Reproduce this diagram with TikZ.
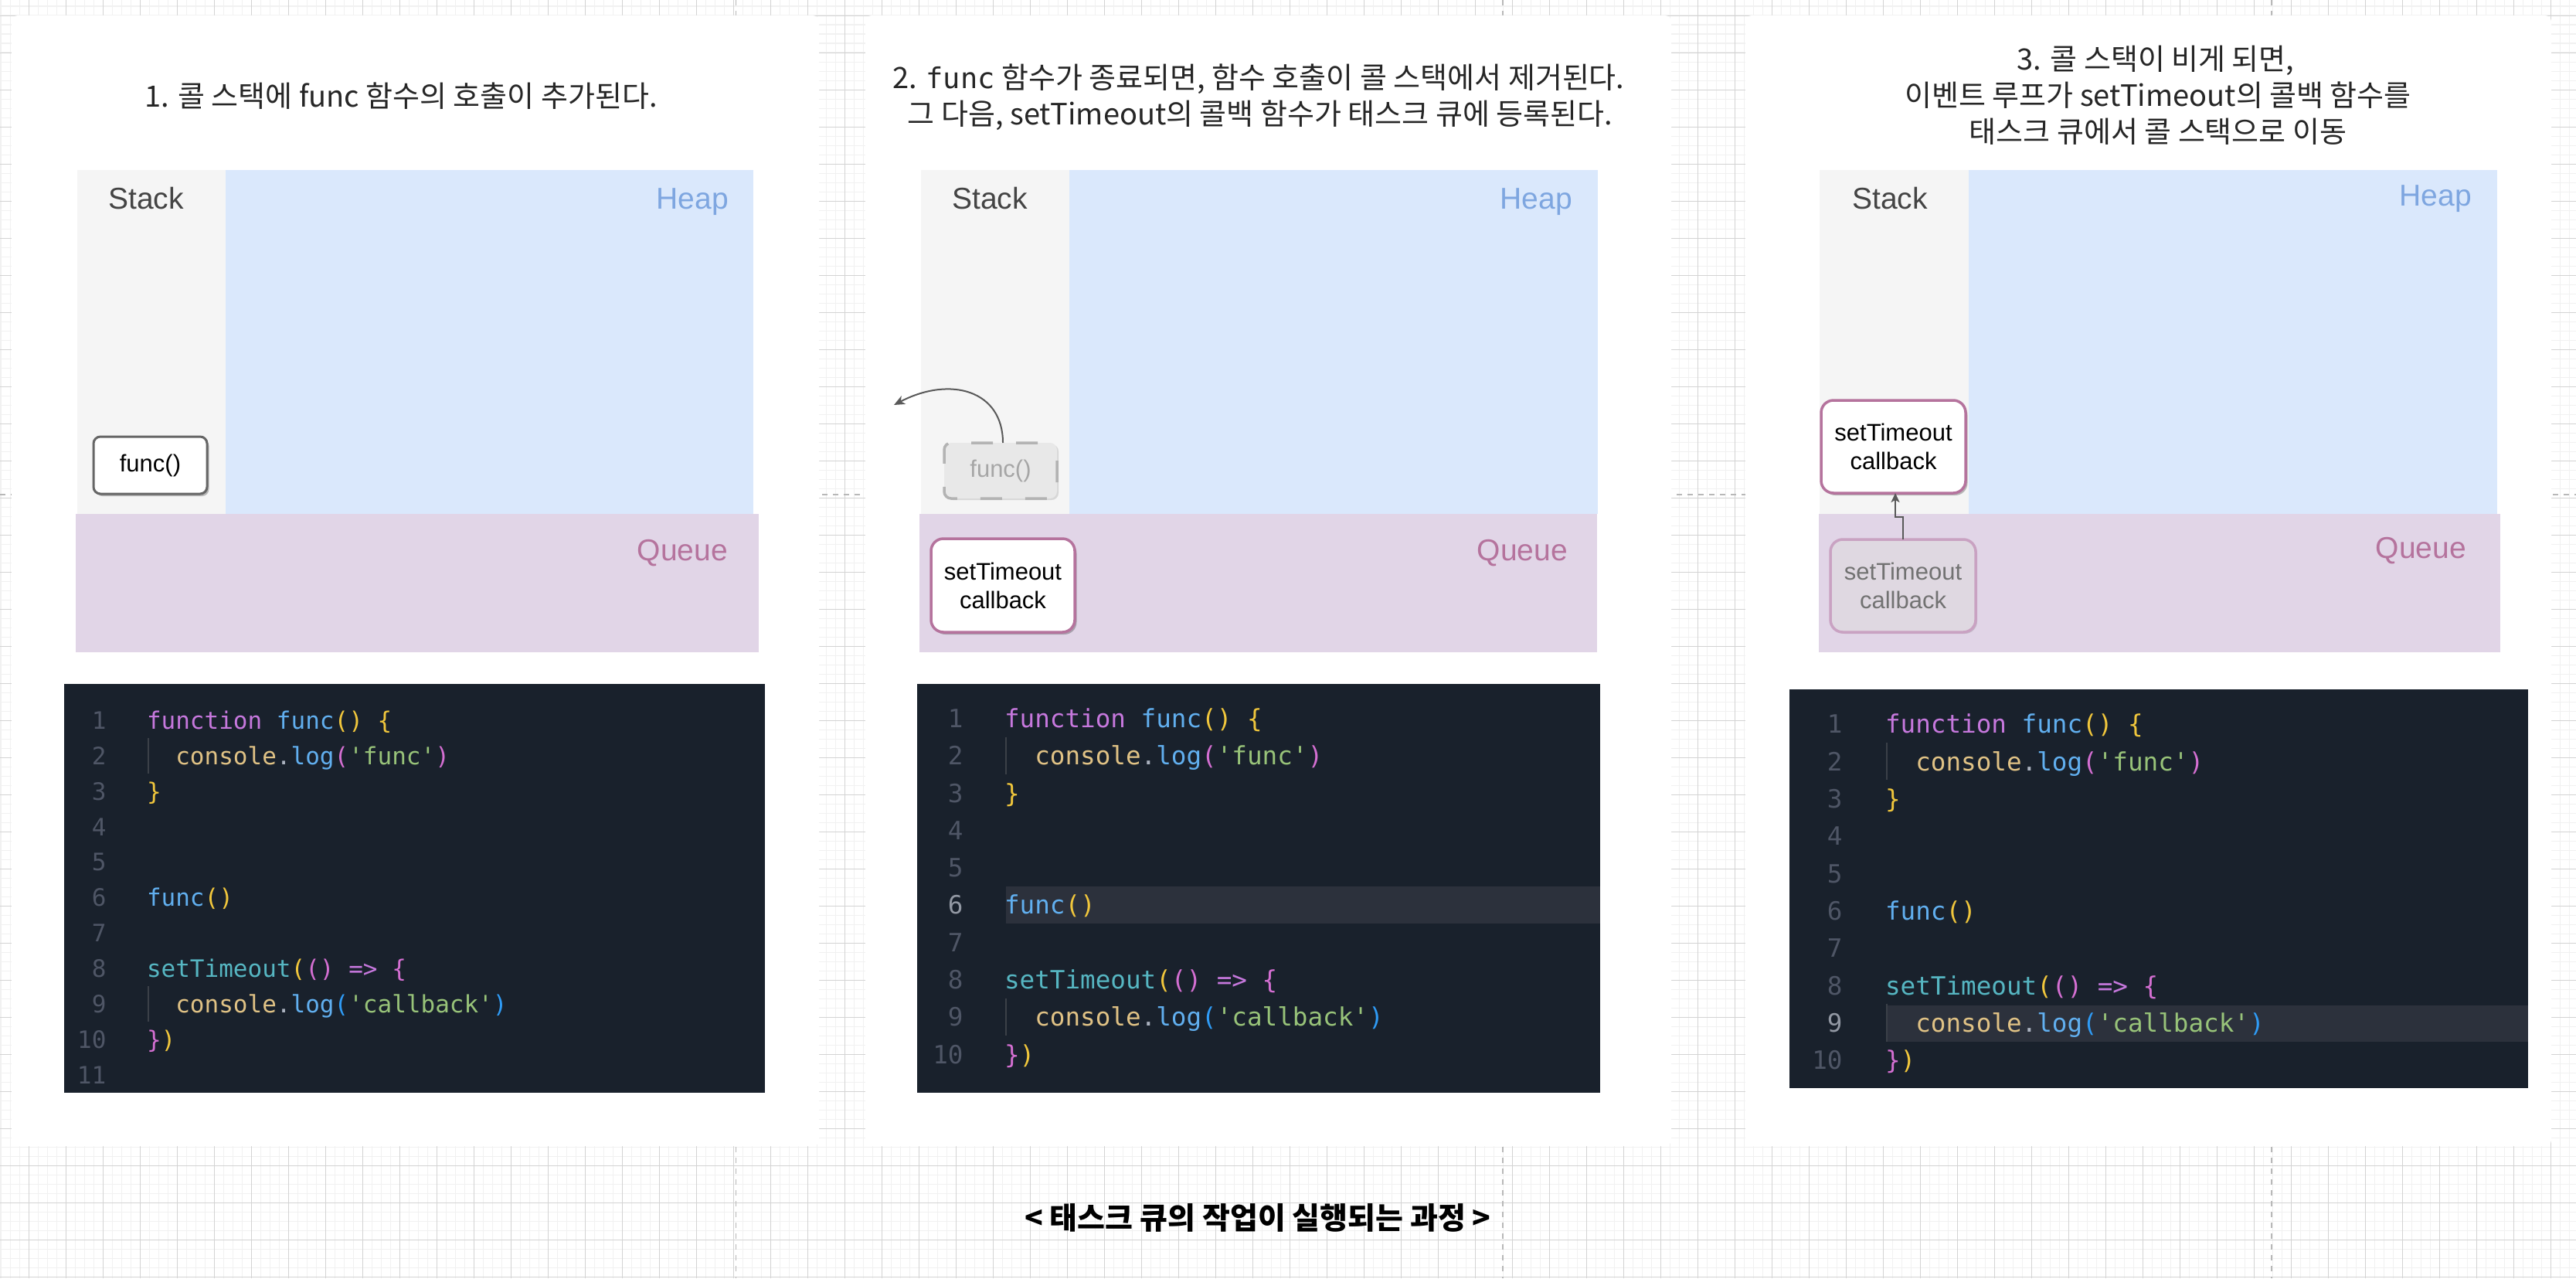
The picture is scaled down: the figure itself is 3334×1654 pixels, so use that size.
\documentclass[tikz,border=0pt]{standalone}
\usepackage{fontspec}
\setmainfont{Liberation Sans}
\setmonofont{DejaVu Sans Mono}
\newfontfamily\kr{Noto Sans CJK KR}
\usetikzlibrary{arrows.meta,shadows}

\definecolor{gridminor}{HTML}{F1F1F1}
\definecolor{gridmajor}{HTML}{D3D3D3}
\definecolor{pagebreak}{HTML}{B8B8B8}
\definecolor{stackfill}{HTML}{F5F5F5}
\definecolor{heapfill}{HTML}{DAE8FC}
\definecolor{queuefill}{HTML}{E1D5E7}
\definecolor{heaptext}{HTML}{7EA6E0}
\definecolor{queuetext}{HTML}{B5739D}
\definecolor{stacktext}{HTML}{444444}
\definecolor{titletext}{HTML}{262626}
\definecolor{funcborder}{HTML}{666666}
\definecolor{cbborder}{HTML}{B5739D}
\definecolor{ghostfill}{HTML}{E8E8E8}
\definecolor{ghostdash}{HTML}{B3B3B3}
\definecolor{ghosttext}{HTML}{A6A6A6}
\definecolor{ghostcbfill}{HTML}{DFD8E1}
\definecolor{ghostcbborder}{HTML}{C9A2C2}
\definecolor{ghostcbtext}{HTML}{727272}
\definecolor{arrowc}{HTML}{595959}
\definecolor{codebg}{HTML}{19212C}
\definecolor{codehl}{HTML}{2C313C}
\definecolor{lnum}{HTML}{4F5666}
\definecolor{lnumhl}{HTML}{9298A3}
\definecolor{guide}{HTML}{3B4048}
\definecolor{ckw}{HTML}{C678DD}
\definecolor{cfn}{HTML}{61AFEF}
\definecolor{cbone}{HTML}{F0C63C}
\definecolor{cbtwo}{HTML}{D46FD2}
\definecolor{cbthree}{HTML}{2F9BF5}
\definecolor{ccons}{HTML}{E0C285}
\definecolor{cdot}{HTML}{ABB2BF}
\definecolor{cstr}{HTML}{98C379}
\definecolor{ccyan}{HTML}{56B6C2}

\newcommand\cc[2]{\textcolor{#1}{#2}}
% #1 prefix, #2 font size, #3 line spacing, #4 number x (relative), #5 highlighted line number
\newcommand\codeblock[5]{%
  \begin{scope}[every node/.style={inner sep=0, outer sep=0, font=\ttfamily\fontsize{#2}{#2}\selectfont}]
    \draw[guide, line width=1.5pt] (2,{#3-0.364*#2-#3/2}) -- ++(0,#3);
    \draw[guide, line width=1.5pt] (2,{8*#3-0.364*#2-#3/2}) -- ++(0,#3);
    \foreach \i in {1,...,10} {
      \node[anchor=base east, text=lnum] (#1n\i) at (#4,{(\i-1)*#3}) {\ifnum\i=#5\relax\color{lnumhl}\fi\i};
    }
    \node[anchor=base west] (#1c1) at (0,0) {\cc{ckw}{function} \cc{cfn}{func}\cc{cbone}{()} \cc{cbone}{\{}};
    \node[anchor=base west] (#1c2) at ({1.204*#2},#3) {\cc{ccons}{console}\cc{cdot}{.}\cc{cfn}{log}\cc{cbtwo}{(}\cc{cstr}{'func'}\cc{cbtwo}{)}};
    \node[anchor=base west] (#1c3) at (0,{2*#3}) {\cc{cbone}{\}}};
    \node[anchor=base west] (#1c6) at (0,{5*#3}) {\cc{cfn}{func}\cc{cbone}{()}};
    \node[anchor=base west] (#1c8) at (0,{7*#3}) {\cc{ccyan}{setTimeout}\cc{cbone}{(}\cc{cbtwo}{()} \cc{ckw}{=>} \cc{cbtwo}{\{}};
    \node[anchor=base west] (#1c9) at ({1.204*#2},{8*#3}) {\cc{ccons}{console}\cc{cdot}{.}\cc{cfn}{log}\cc{cbthree}{(}\cc{cstr}{'callback'}\cc{cbthree}{)}};
    \node[anchor=base west] (#1c10) at (0,{9*#3}) {\cc{cbtwo}{\}}\cc{cbone}{)}};
  \end{scope}%
}

\tikzset{
  region/.style={inner sep=0, outer sep=0, draw=none},
  lbl/.style={inner sep=0, outer sep=0, font=\fontsize{39}{39}\selectfont},
  titlefont/.style={inner sep=0, outer sep=0, text=titletext, font=\kr\fontsize{38}{38}\selectfont},
  boxshadow/.style={drop shadow={shadow xshift=2.5pt, shadow yshift=-3pt, opacity=0.25, fill=black}},
  funcbox/.style={rounded corners=9pt, inner sep=0, outer sep=0, fill=white, draw=funcborder, line width=3pt,
    minimum width=147pt, minimum height=74pt, font=\fontsize{31}{37}\selectfont, boxshadow},
  ghostfunc/.style={rounded corners=9pt, inner sep=0, outer sep=0, fill=ghostfill, draw=ghostdash, line width=3.5pt,
    dash pattern=on 28pt off 30pt, dash phase=-16pt, minimum width=146pt, minimum height=72pt, text=ghosttext,
    font=\fontsize{31}{37}\selectfont, drop shadow={shadow xshift=2pt, shadow yshift=-2pt, opacity=0.12, fill=black}},
  cbbox/.style={rounded corners=16pt, inner sep=0, outer sep=0, fill=white, draw=cbborder, line width=3.5pt,
    minimum width=186pt, minimum height=121pt, align=center, font=\fontsize{31}{37}\selectfont, boxshadow},
  ghostcb/.style={rounded corners=16pt, inner sep=0, outer sep=0, fill=ghostcbfill, draw=ghostcbborder, line width=3.5pt,
    minimum width=188pt, minimum height=120pt, align=center, text=ghostcbtext, font=\fontsize{31}{37}\selectfont,
    drop shadow={shadow xshift=2pt, shadow yshift=-2pt, opacity=0.12, fill=black}},
  arr/.style={draw=arrowc, line width=2pt, -{Stealth[length=14pt, width=12pt, inset=4pt]}},
}

\begin{document}
\begin{tikzpicture}[x=1pt, y=-1pt]
\useasboundingbox (0,0) rectangle (3334,1654);
\clip (0,0) rectangle (3334,1654);
\fill[white] (0,0) rectangle (3334,1654);

% background grid
\draw[gridminor, line width=1.6pt] \foreach \k in {0,...,277} {({1.3+12*\k},0) -- ({1.3+12*\k},1654)};
\draw[gridminor, line width=1.6pt] \foreach \k in {0,...,137} {(0,{8.3+12*\k}) -- (3334,{8.3+12*\k})};
\draw[gridmajor, line width=1pt] \foreach \k in {0,...,69} {({37.3+48*\k},0) -- ({37.3+48*\k},1654)};
\draw[gridmajor, line width=1pt] \foreach \k in {0,...,34} {(0,{20.3+48*\k}) -- (3334,{20.3+48*\k})};
\draw[pagebreak, line width=1.3pt, dash pattern=on 7pt off 7pt] (952.6,0) -- (952.6,1654) (1945,0) -- (1945,1654) (2940,0) -- (2940,1654) (0,640) -- (3334,640);

% cards
\fill[white, rounded corners=8pt] (15,20) rectangle (1060,1483);
\fill[white, rounded corners=8pt] (1120,20) rectangle (2163,1483);
\fill[white, rounded corners=8pt] (2259,20) rectangle (3302,1483);

% ================= Panel 1 =================
\node[titlefont, anchor=base] (t1) at (519,138) {1. 콜 스택에 func 함수의 호출이 추가된다.};
\node[region, fill=stackfill, minimum width=192pt, minimum height=445pt] (stack1) at (196,442.5) {};
\node[region, fill=heapfill, minimum width=683pt, minimum height=445pt] (heap1) at (633.5,442.5) {};
\node[region, fill=queuefill, minimum width=884pt, minimum height=179pt] (queue1) at (540,754.5) {};
\node[lbl, anchor=base, text=stacktext] (sl1) at (189,270) {Stack};
\node[lbl, anchor=base east, text=heaptext] (hl1) at (943,270) {Heap};
\node[lbl, anchor=base east, text=queuetext] (ql1) at (942,725) {Queue};
\node[funcbox] (func1) at (194.5,602) {func()};

\fill[codebg] (83,885) rectangle (990,1414);
\begin{scope}[shift={(190,943.3)}]
  \codeblock{a}{31}{45.9}{-52.5}{0}
  \node[anchor=base east, inner sep=0, text=lnum, font=\ttfamily\fontsize{31}{31}\selectfont] (an11) at (-52.5,459) {11};
\end{scope}

% ================= Panel 2 =================
\node[titlefont, anchor=base] (t2a) at (1629,114) {2. {\ttfamily\fontsize{37}{37}\selectfont func} 함수가 종료되면, 함수 호출이 콜 스택에서 제거된다.};
\node[titlefont, anchor=base] (t2b) at (1631,161) {그 다음, setTimeout의 콜백 함수가 태스크 큐에 등록된다.};
\node[region, fill=stackfill, minimum width=192pt, minimum height=445pt] (stack2) at (1288,442.5) {};
\node[region, fill=heapfill, minimum width=684pt, minimum height=445pt] (heap2) at (1726,442.5) {};
\node[region, fill=queuefill, minimum width=877pt, minimum height=179pt] (queue2) at (1628.5,754.5) {};
\node[lbl, anchor=base, text=stacktext] (sl2) at (1281,270) {Stack};
\node[lbl, anchor=base east, text=heaptext] (hl2) at (2035,270) {Heap};
\node[lbl, anchor=base east, text=queuetext] (ql2) at (2029,725) {Queue};
\node[ghostfunc] (g2) at (1295,609) {func()};
\node[cbbox] (cb2) at (1298,757.5) {setTimeout\\callback};
\coordinate (out2) at (1157,524);
\draw[arr] ([xshift=3pt]g2.north) .. controls (1298,505) and (1230,486) .. (out2);

\fill[codebg] (1187,885) rectangle (2071,1414);
\fill[codehl] (1302,1147) rectangle (2071,1195);
\begin{scope}[shift={(1300,941.4)}]
  \codeblock{b}{32.6}{48.3}{-53.5}{6}
\end{scope}

% ================= Panel 3 =================
\node[titlefont, anchor=base] (t3a) at (2790,90) {3. 콜 스택이 비게 되면,};
\node[titlefont, anchor=base] (t3b) at (2793,137) {이벤트 루프가 setTimeout의 콜백 함수를};
\node[titlefont, anchor=base] (t3c) at (2793,184) {태스크 큐에서 콜 스택으로 이동};
\node[region, fill=stackfill, minimum width=193pt, minimum height=445pt] (stack3) at (2451.5,442.5) {};
\node[region, fill=heapfill, minimum width=684pt, minimum height=445pt] (heap3) at (2890,442.5) {};
\node[region, fill=queuefill, minimum width=882pt, minimum height=179pt] (queue3) at (2795,754.5) {};
\node[lbl, anchor=base, text=stacktext] (sl3) at (2446,270) {Stack};
\node[lbl, anchor=base east, text=heaptext] (hl3) at (3199,266) {Heap};
\node[lbl, anchor=base east, text=queuetext] (ql3) at (3192,722) {Queue};
\node[ghostcb] (gcb3) at (2463,758) {setTimeout\\callback};
\node[cbbox, minimum width=187pt, minimum height=120pt] (cb3) at (2450.5,578) {setTimeout\\callback};
\draw[arr, -{Stealth[length=12pt, width=11pt, inset=3pt]}] (gcb3.north) -- ++(0,-29) -| ([xshift=2.5pt]cb3.south);

\fill[codebg] (2316,892) rectangle (3272,1408);
\fill[codehl] (2443,1301) rectangle (3272,1348);
\begin{scope}[shift={(2440,948.9)}]
  \codeblock{c}{32.6}{48.3}{-55.5}{9}
\end{scope}

% caption
\node[inner sep=0, anchor=base, text=black, font=\kr\bfseries\fontsize{39}{39}\selectfont] (caption) at (1628,1590) {< 태스크 큐의 작업이 실행되는 과정 >};
\end{tikzpicture}
\end{document}
